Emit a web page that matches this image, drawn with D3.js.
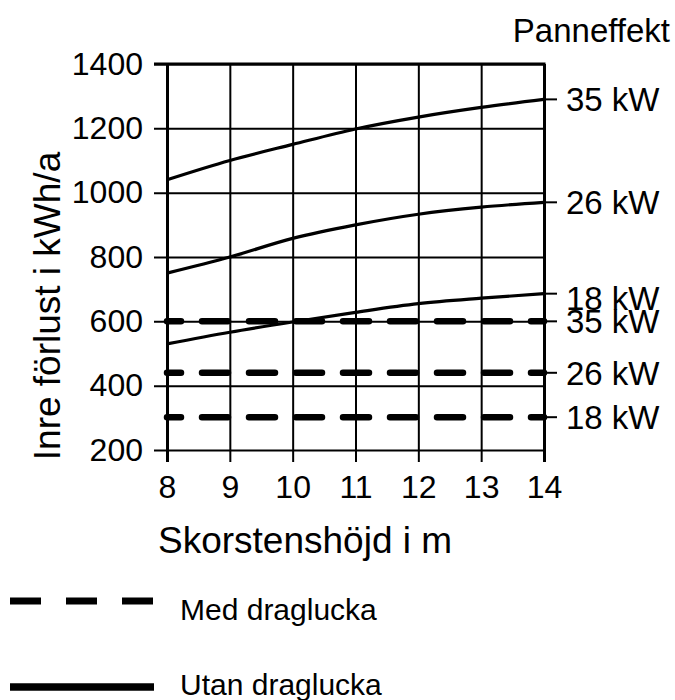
<!DOCTYPE html>
<html>
<head>
<meta charset="utf-8">
<script src="https://cdn.jsdelivr.net/npm/d3@7"></script>
<style>
  body { margin: 0; background: #fff; }
  text { font-family: "Liberation Sans", Arial, Helvetica, sans-serif; fill: #000; }
</style>
</head>
<body>
<div id="vis"></div>
<script>
// chart data
const heights = [8, 9, 10, 11, 12, 13, 14];
const xTicks = [8, 9, 10, 11, 12, 13, 14];
const yTicks = [200, 400, 600, 800, 1000, 1200, 1400];

// utan draglucka (solid)
const utan35 = [1040, 1100, 1150, 1198, 1235, 1265, 1290];
const utan26 = [750, 800, 858, 900, 933, 955, 970];
const utan18 = [530, 566, 598, 628, 655, 672, 686];

// med draglucka (dashed)
const med35 = [600, 600, 600, 600, 600, 600, 600];
const med26 = [440, 440, 440, 440, 440, 440, 440];
const med18 = [302, 302, 302, 302, 302, 302, 302];

const seriesLabels = ["35 kW", "26 kW", "18 kW", "35 kW", "26 kW", "18 kW"];

const WIDTH = 675;
const HEIGHT = 700;
const LEFT = 167, RIGHT = 544, TOP = 64, BOTTOM = 450;

const svg = d3.select("#vis")
  .append("svg")
    .attr("width", WIDTH)
    .attr("height", HEIGHT);

const X_SCALE = d3.scaleLinear().domain([8, 14]).range([LEFT, RIGHT]);
const Y_SCALE = d3.scaleLinear().domain([200, 1400]).range([BOTTOM, TOP]);

// horizontal grid + y ticks
const yAxis = svg.append("g")
  .attr("transform", "translate(154,0)")
  .call(d3.axisLeft(Y_SCALE).tickValues(yTicks).tickFormat(d3.format("d"))
    .tickSize(-(RIGHT - 154)).tickPadding(11));
yAxis.select(".domain").remove();
yAxis.selectAll("line").attr("stroke", "#000").attr("stroke-width", 2);
yAxis.selectAll("text")
  .attr("font-size", 32)
  .attr("font-family", "Liberation Sans, Arial, sans-serif")
  .attr("fill", "#000");

// vertical grid + x ticks
const xAxis = svg.append("g")
  .attr("transform", "translate(0,462)")
  .call(d3.axisBottom(X_SCALE).tickValues(xTicks).tickFormat(d3.format("d"))
    .tickSize(-(462 - TOP)).tickPadding(13));
xAxis.select(".domain").remove();
xAxis.selectAll("line")
  .attr("stroke", "#000")
  .attr("stroke-width", (d) => (d === 8 || d === 14) ? 3 : 2);
xAxis.selectAll("text")
  .attr("font-size", 32)
  .attr("font-family", "Liberation Sans, Arial, sans-serif")
  .attr("fill", "#000");

// top border a bit heavier
svg.append("line")
  .attr("x1", 154).attr("x2", RIGHT + 1.5)
  .attr("y1", Y_SCALE(1400)).attr("y2", Y_SCALE(1400))
  .attr("stroke", "#000").attr("stroke-width", 3);

const line = d3.line()
  .x((d, i) => X_SCALE(heights[i]))
  .y((d) => Y_SCALE(d))
  .curve(d3.curveMonotoneX);

const solid = [utan35, utan26, utan18];
const dashed = [med35, med26, med18];

svg.selectAll(".solid")
  .data(solid)
  .enter()
  .append("path")
    .attr("class", "solid")
    .attr("d", line)
    .attr("fill", "none")
    .attr("stroke", "#000")
    .attr("stroke-width", 3.2);

svg.selectAll(".dashed")
  .data(dashed)
  .enter()
  .append("path")
    .attr("class", "dashed")
    .attr("d", line)
    .attr("fill", "none")
    .attr("stroke", "#000")
    .attr("stroke-width", 6.5)
    .attr("stroke-linecap", "round")
    .attr("stroke-dasharray", "26,21")
    .attr("stroke-dashoffset", 12);

// right-side label stubs and labels
const ends = solid.concat(dashed).map((s) => s[s.length - 1]);
const labelShift = [0, 0, 4, 0, 0, 0];

svg.selectAll(".stub")
  .data(ends)
  .enter()
  .append("line")
    .attr("x1", RIGHT).attr("x2", 557)
    .attr("y1", (d) => Y_SCALE(d)).attr("y2", (d) => Y_SCALE(d))
    .attr("stroke", "#000").attr("stroke-width", 2);

svg.selectAll(".rlabel")
  .data(ends)
  .enter()
  .append("text")
    .attr("x", 566)
    .attr("y", (d, i) => Y_SCALE(d) + 12 + labelShift[i])
    .attr("font-size", 33)
    .text((d, i) => seriesLabels[i]);

svg.append("text")
  .attr("x", 670).attr("y", 42)
  .attr("text-anchor", "end")
  .attr("font-size", 33)
  .text("Panneffekt");

// axis titles
svg.append("text")
  .attr("x", 158).attr("y", 553)
  .attr("font-size", 37)
  .text("Skorstenshöjd i m");

svg.append("text")
  .attr("transform", "translate(60,306) rotate(-90)")
  .attr("text-anchor", "middle")
  .attr("font-size", 37)
  .text("Inre förlust i kWh/a");

// legend
svg.append("line")
  .attr("x1", 10).attr("x2", 154)
  .attr("y1", 601).attr("y2", 601)
  .attr("stroke", "#000").attr("stroke-width", 7)
  .attr("stroke-dasharray", "31,25");
svg.append("text")
  .attr("x", 180).attr("y", 620)
  .attr("font-size", 30)
  .text("Med draglucka");

svg.append("line")
  .attr("x1", 10).attr("x2", 154)
  .attr("y1", 687).attr("y2", 687)
  .attr("stroke", "#000").attr("stroke-width", 7.5);
svg.append("text")
  .attr("x", 180).attr("y", 695)
  .attr("font-size", 30)
  .text("Utan draglucka");
</script>
</body>
</html>
